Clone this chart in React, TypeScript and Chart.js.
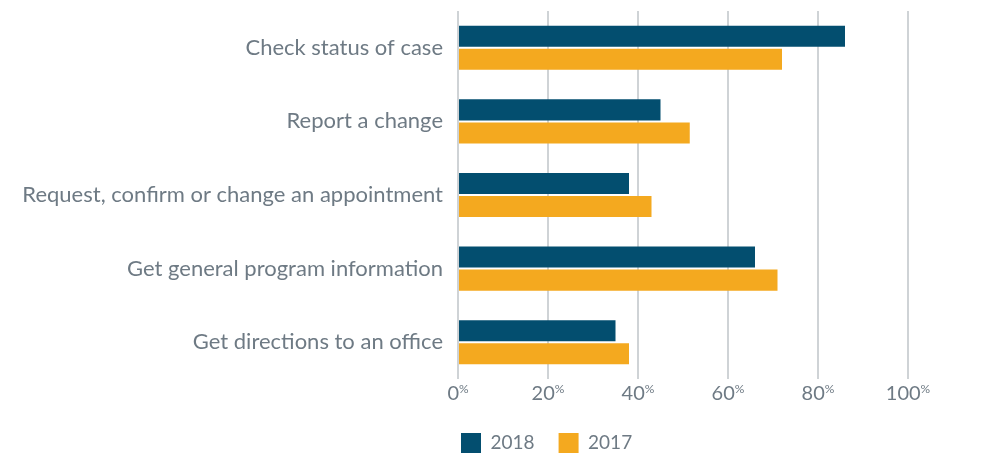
import React, { useEffect, useRef } from "react";
import { Chart, registerables } from "chart.js";

Chart.register(...registerables);

const categories = [
  "Check status of case",
  "Report a change",
  "Request, confirm or change an appointment",
  "Get general program information",
  "Get directions to an office",
];
const values2018 = [86, 45, 38, 66, 35];
const values2017 = [72, 51.5, 43, 71, 38];
const tickValues = [0, 20, 40, 60, 80, 100];

const TEXT = "#6e7a84";
const FONT = "Lato";
const LEGEND_PAD = 24;

const percentTicks = {
  id: "percentTicks",
  afterLayout(chart: any) {
    const lg = chart.legend;
    if (lg) {
      lg.left -= 21;
      lg.right -= 21;
    }
  },
  afterDraw(chart: any) {
    const scale = chart.scales.x;
    const ctx = chart.ctx;
    ctx.save();
    ctx.fillStyle = TEXT;
    ctx.textBaseline = "alphabetic";
    ctx.textAlign = "left";
    const y = chart.chartArea.bottom + 21;
    tickValues.forEach((v) => {
      const x = scale.getPixelForValue(v);
      ctx.font = `20px ${FONT}`;
      const num = String(v);
      const wNum = ctx.measureText(num).width;
      ctx.font = `12px ${FONT}`;
      const wPct = ctx.measureText("%").width;
      const start = x - (wNum + wPct) / 2;
      ctx.font = `20px ${FONT}`;
      ctx.fillText(num, start, y);
      ctx.font = `12px ${FONT}`;
      ctx.fillText("%", start + wNum, y - 7);
    });
    ctx.restore();
  },
};

export default function App() {
  const ref = useRef<HTMLCanvasElement | null>(null);
  useEffect(() => {
    if (!ref.current) return;
    const chart = new Chart(ref.current, {
      type: "bar",
      data: {
        labels: categories,
        datasets: [
          {
            label: "2018",
            data: values2018,
            backgroundColor: "#034e6f",
            categoryPercentage: 0.626,
            barPercentage: 0.913,
          },
          {
            label: "2017",
            data: values2017,
            backgroundColor: "#f4a91f",
            categoryPercentage: 0.626,
            barPercentage: 0.913,
          },
        ],
      },
      options: {
        indexAxis: "y",
        animation: false,
        responsive: true,
        maintainAspectRatio: false,
        layout: { padding: { top: 11, right: 92, left: 0, bottom: 4 } },
        scales: {
          x: {
            min: 0,
            max: 100,
            ticks: { display: false, stepSize: 20 },
            grid: { color: "#cfd3d6", lineWidth: 2, drawTicks: false },
            border: { display: false },
            afterFit: (s: any) => {
              s.height = 30;
              s.paddingLeft = 0;
              s.paddingRight = 0;
            },
          },
          y: {
            ticks: {
              color: TEXT,
              font: { family: FONT, size: 22 },
              padding: 15,
            },
            grid: { display: false, drawTicks: false },
            border: { display: false },
            afterFit: (s: any) => {
              s.width = 458;
              s.paddingTop = 0;
              s.paddingBottom = 0;
            },
          },
        },
        plugins: {
          legend: {
            position: "bottom",
            fullSize: false,
            align: "start",
            labels: {
              boxWidth: 20,
              boxHeight: 20,
              padding: LEGEND_PAD,
              color: TEXT,
              font: { family: FONT, size: 19 },
            },
          },
          tooltip: { enabled: false },
        },
      },
      plugins: [percentTicks],
    });
    return () => chart.destroy();
  }, []);
  return (
    <div style={{ position: "fixed", left: 0, top: 0, width: 1000, height: 467, background: "#fff" }}>
      <canvas ref={ref} />
    </div>
  );
}
